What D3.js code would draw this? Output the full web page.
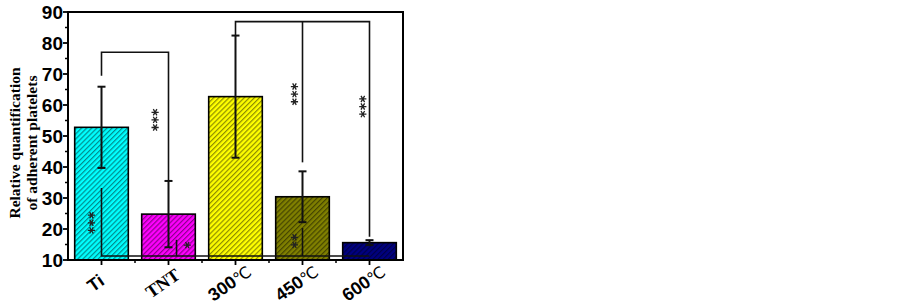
<!DOCTYPE html>
<html>
<head>
<meta charset="utf-8">
<script src="https://cdn.jsdelivr.net/npm/d3@7"></script>
<style>
  body { margin: 0; background: #fff; }
  svg { display: block; }
</style>
</head>
<body>
<div id="chart"></div>
<script>
const categories = ["Ti", "TNT", "300℃", "450℃", "600℃"];
const means = [52.8, 24.8, 62.7, 30.4, 15.6];
const errors = [13.1, 10.7, 19.7, 8.2, 0.8];
const fills = ["#00ffff", "#ff00ff", "#ffff00", "#808000", "#000080"];
const hatchColors = ["#008c8c", "#8c008c", "#8c8c00", "#454500", "#00004a"];
const yTicks = [10, 20, 30, 40, 50, 60, 70, 80, 90];

// significance lines, x in category index, y in data units
const brackets = [
  [[0, 69.4], [0, 77], [1, 77], [1, 35.6]],
  [[0, 33.2], [0, 11.3], [4, 11.3]],
  [[1.12, 16.5], [1.12, 11.3]],
  [[3, 20.3], [3, 11.3]],
  [[2, 82.6], [2, 86.9], [4, 86.9], [4, 17.5]],
  [[3, 86.9], [3, 41.5]]
];
// star groups: x in category index, y = centre in data units, n = count
const stars = [
  {x: 0.8, y: 55.2, n: 3},
  {x: -0.15, y: 22, n: 3},
  {x: 1.28, y: 14.8, n: 1},
  {x: 2.88, y: 16.1, n: 2},
  {x: 2.88, y: 63.5, n: 3},
  {x: 3.9, y: 59.5, n: 3}
];

const W = 903, H = 305;
const margin = {top: 12, left: 68, right: 500, bottom: 45};

const svg = d3.select("#chart").append("svg")
    .attr("width", W).attr("height", H);

const x = d3.scaleBand()
    .domain(d3.range(categories.length))
    .range([margin.left, W - margin.right])
    .paddingInner(0.2).paddingOuter(0.1);
const xc = i => x(0) + x.bandwidth() / 2 + i * x.step();

const y = d3.scaleLinear().domain([10, 90]).range([H - margin.bottom, margin.top]);

const defs = svg.append("defs");
fills.forEach((c, i) => {
  const p = defs.append("pattern")
      .attr("id", "hatch" + i)
      .attr("patternUnits", "userSpaceOnUse")
      .attr("width", 3.6).attr("height", 3.6)
      .attr("patternTransform", "rotate(-45)");
  p.append("rect").attr("width", 3.6).attr("height", 3.6).attr("fill", c);
  p.append("line").attr("x1", 0).attr("y1", 0).attr("x2", 3.6).attr("y2", 0)
      .attr("stroke", hatchColors[i]).attr("stroke-width", 2.4);
});

// bars
svg.selectAll(".bar").data(means).join("rect")
    .attr("class", "bar")
    .attr("x", (d, i) => x(i))
    .attr("width", x.bandwidth())
    .attr("y", d => y(d))
    .attr("height", d => y(10) - y(d))
    .attr("fill", (d, i) => `url(#hatch${i})`)
    .attr("stroke", "#000").attr("stroke-width", 1.6);

// error bars
const eb = svg.append("g").attr("stroke", "#111").attr("stroke-width", 2);
means.forEach((m, i) => {
  const cx = xc(i);
  eb.append("line").attr("x1", cx).attr("x2", cx).attr("y1", y(m + errors[i])).attr("y2", y(m - errors[i]));
  eb.append("line").attr("x1", cx - 4).attr("x2", cx + 4).attr("y1", y(m + errors[i])).attr("y2", y(m + errors[i]));
  eb.append("line").attr("x1", cx - 4).attr("x2", cx + 4).attr("y1", y(m - errors[i])).attr("y2", y(m - errors[i]));
});

// brackets
const line = d3.line().x(d => xc(d[0])).y(d => y(d[1]));
svg.append("g").selectAll("path").data(brackets).join("path")
    .attr("d", line)
    .attr("fill", "none").attr("stroke", "#111").attr("stroke-width", 1.6);

// asterisks stacked vertically
const star = d3.symbol(d3.symbolAsterisk, 36);
const sg = svg.append("g").attr("fill", "none").attr("stroke", "#222").attr("stroke-width", 1.3);
stars.forEach(s => {
  d3.range(s.n).forEach(k => {
    const off = (k - (s.n - 1) / 2) * 7.6;
    sg.append("path")
        .attr("d", star())
        .attr("transform", `translate(${xc(s.x)},${y(s.y) + off}) rotate(90)`);
  });
});

// frame
svg.append("rect")
    .attr("x", margin.left).attr("y", margin.top)
    .attr("width", W - margin.right - margin.left)
    .attr("height", y(10) - margin.top)
    .attr("fill", "none").attr("stroke", "#000").attr("stroke-width", 2);

// y axis
const yAxis = svg.append("g").attr("transform", `translate(${margin.left},0)`);
yAxis.selectAll(".minor").data(d3.range(15, 90, 10)).join("line")
    .attr("x1", -3).attr("x2", 0).attr("y1", d => y(d)).attr("y2", d => y(d))
    .attr("stroke", "#000").attr("stroke-width", 1.5);
yAxis.selectAll(".major").data(yTicks).join("line")
    .attr("x1", -5).attr("x2", 0).attr("y1", d => y(d)).attr("y2", d => y(d))
    .attr("stroke", "#000").attr("stroke-width", 1.8);
yAxis.selectAll("text").data(yTicks).join("text")
    .attr("x", -5).attr("y", d => y(d)).attr("dy", "0.36em")
    .attr("text-anchor", "end")
    .attr("font-family", "Liberation Sans, Arial").attr("font-weight", "bold")
    .attr("font-size", 19)
    .text(d => d);

// x axis ticks
const xAxis = svg.append("g").attr("transform", `translate(0,${y(10)})`);
xAxis.selectAll(".major").data(d3.range(categories.length)).join("line")
    .attr("x1", d => xc(d)).attr("x2", d => xc(d)).attr("y1", 0).attr("y2", 5)
    .attr("stroke", "#000").attr("stroke-width", 1.8);
xAxis.selectAll(".minor").data(d3.range(1, categories.length)).join("line")
    .attr("x1", d => xc(d - 0.5)).attr("x2", d => xc(d - 0.5)).attr("y1", 0).attr("y2", 3)
    .attr("stroke", "#000").attr("stroke-width", 1.5);

const xl = xAxis.selectAll("text").data(categories).join("text")
    .attr("transform", (d, i) => `translate(${xc(i) - 6},23) rotate(-35)`)
    .attr("text-anchor", "middle")
    .attr("dy", "0.35em")
    .attr("font-weight", "bold")
    .attr("font-size", 18)
    .attr("font-family", d => d === "TNT" ? "Liberation Serif" : "Liberation Sans");
xl.each(function(d) {
  const t = d3.select(this);
  if (d.endsWith("℃")) {
    t.append("tspan").text(d.slice(0, -1));
    t.append("tspan").attr("font-weight", "normal").attr("font-family", "DejaVu Sans").attr("font-size", 16).text("℃");
  } else {
    t.text(d);
  }
});

// y label
const yl = svg.append("text")
    .attr("transform", `translate(24,${y(50) + 7}) rotate(-90)`)
    .attr("text-anchor", "middle")
    .attr("font-family", "Liberation Serif").attr("font-weight", "bold")
    .attr("font-size", 15.5);
yl.append("tspan").attr("x", 0).attr("dy", "-0.25em").text("Relative quantification");
yl.append("tspan").attr("x", 0).attr("dy", "1.1em").text("of adherent platelets");
</script>
</body>
</html>
